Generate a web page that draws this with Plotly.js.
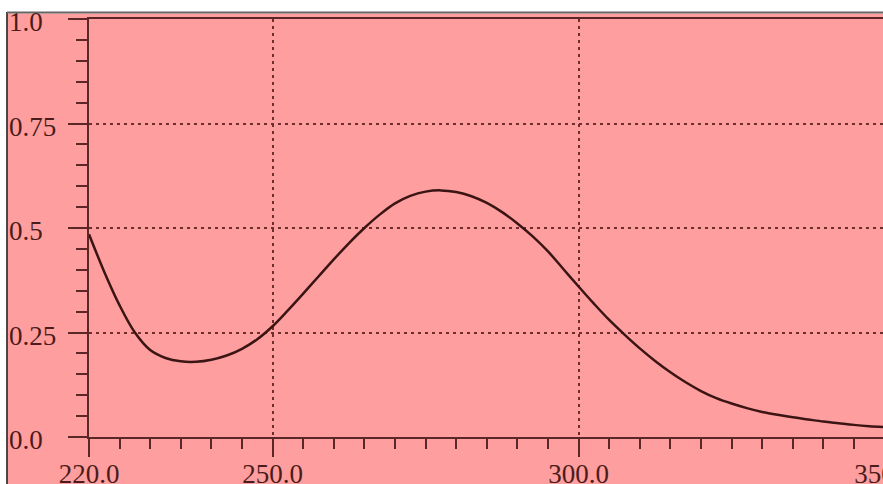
<!DOCTYPE html>
<html>
<head>
<meta charset="utf-8">
<script src="https://cdn.plot.ly/plotly-3.0.1.min.js"></script>
<style>
html,body{margin:0;padding:0;overflow:hidden;background:#ffffff;}
#chart{width:887px;height:484px;}
</style>
</head>
<body>
<div id="chart"></div>
<script>
// Wavelength (nm)
const wavelength = [220,222.5,225,227.5,230,232.5,235,237.5,240,242.5,245,247.5,250,252.5,255,257.5,260,262.5,265,267.5,270,272.5,275,277.5,280,282.5,285,287.5,290,292.5,295,297.5,300,302.5,305,307.5,310,312.5,315,317.5,320,322.5,325,327.5,330,332.5,335,337.5,340,342.5,345,347.5,350];
// Absorbance
const absorbance = [0.485,0.395,0.315,0.250,0.208,0.189,0.181,0.180,0.185,0.195,0.211,0.234,0.265,0.303,0.343,0.384,0.425,0.464,0.500,0.532,0.559,0.577,0.587,0.590,0.586,0.576,0.560,0.538,0.511,0.480,0.444,0.402,0.360,0.319,0.280,0.245,0.212,0.182,0.155,0.131,0.110,0.093,0.080,0.069,0.060,0.053,0.047,0.042,0.037,0.033,0.029,0.026,0.024];
// Ticks
const xTickVals = [220,250,300,350];
const xTickText = ['220.0','250.0','300.0','350.0'];
const yTickVals = [0,0.25,0.5,0.75,1.0];
const yTickText = ['0.0','0.25','0.5','0.75','1.0'];

const pink = '#ff9e9e';
const axisCol = '#5a2626';
const gridCol = '#6e2e2e';
const textCol = '#4a1c1c';
const font = 'Liberation Serif, serif';

const W = 887, ML = 89;
const pw = W - ML;
const px2paper = p => (p - ML) / pw;
const ph = 418;
const py2paper = p => (437 - p) / ph;

const trace = {
  x: wavelength, y: absorbance, type: 'scatter', mode: 'lines',
  line: {color: '#3b1414', width: 2.5, shape: 'spline', smoothing: 1},
  hoverinfo: 'skip'
};

const annotations = yTickVals.map((v, i) => ({
  xref: 'paper', yref: 'y', x: px2paper(7), y: v,
  xanchor: 'left', yanchor: 'middle', yshift: -3,
  text: yTickText[i], showarrow: false,
  font: {family: font, size: 27, color: textCol}
}));

const layout = {
  width: W, height: 484,
  margin: {l: ML, r: 0, t: 19, b: 47, pad: 0},
  paper_bgcolor: '#ffffff',
  plot_bgcolor: pink,
  showlegend: false,
  xaxis: {
    range: [220, 220 + pw / 6.12],
    tickmode: 'array', tickvals: xTickVals, ticktext: xTickText,
    ticks: 'outside', ticklen: 18, tickwidth: 2, tickcolor: axisCol,
    showline: true, linecolor: axisCol, linewidth: 2, mirror: true,
    showgrid: true, gridcolor: gridCol, gridwidth: 2, griddash: '3px,4px',
    zeroline: false,
    ticklabeloverflow: 'allow',
    ticklabelstandoff: -6,
    tickfont: {family: font, size: 27, color: textCol},
    minor: {tickmode: 'linear', tick0: 220, dtick: 5, ticks: 'outside', ticklen: 10, tickwidth: 2, tickcolor: axisCol, showgrid: false}
  },
  yaxis: {
    range: [0, 1.0],
    tickmode: 'array', tickvals: yTickVals, ticktext: yTickText,
    showticklabels: false,
    ticks: 'outside', ticklen: 19, tickwidth: 2, tickcolor: axisCol,
    showline: true, linecolor: axisCol, linewidth: 2,
    showgrid: true, gridcolor: gridCol, gridwidth: 2, griddash: '3px,4px',
    zeroline: false,
    minor: {tickmode: 'linear', tick0: 0, dtick: 0.05, ticks: 'outside', ticklen: 11, tickwidth: 2, tickcolor: axisCol, showgrid: false}
  },
  shapes: [
    {type: 'rect', xref: 'paper', yref: 'paper', layer: 'below',
     x0: px2paper(7.5), x1: 1.05, y0: -0.3, y1: py2paper(13.5),
     fillcolor: pink, line: {width: 0}},
    {type: 'line', xref: 'paper', yref: 'paper', layer: 'above',
     x0: px2paper(7), x1: px2paper(7), y0: -0.3, y1: py2paper(12),
     line: {color: '#111111', width: 1.5}},
    {type: 'line', xref: 'paper', yref: 'paper', layer: 'above',
     x0: px2paper(7), x1: 1.05, y0: py2paper(12.5), y1: py2paper(12.5),
     line: {color: '#666666', width: 2}}
  ],
  annotations: annotations
};

Plotly.newPlot('chart', [trace], layout, {displayModeBar: false, staticPlot: true});
</script>
</body>
</html>
